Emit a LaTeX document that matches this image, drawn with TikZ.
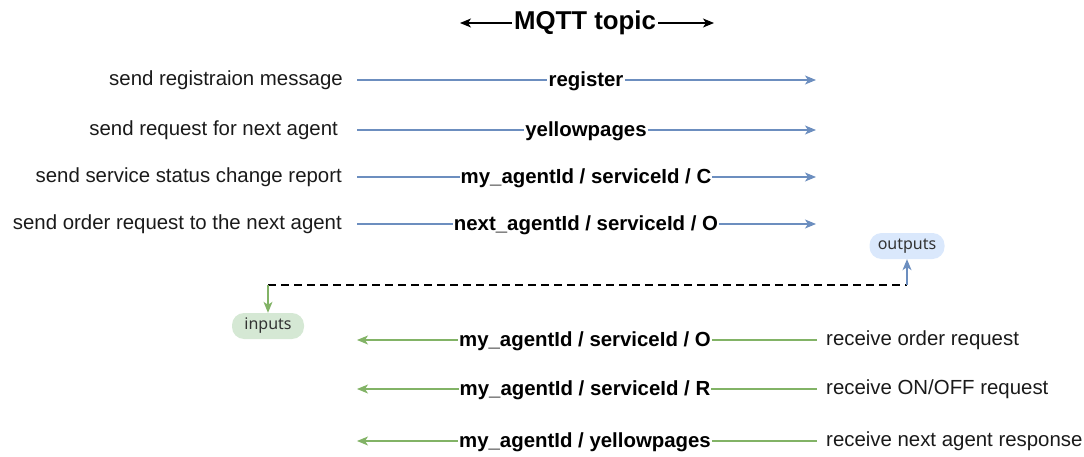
\documentclass[tikz,border=0pt]{standalone}
\usepackage{fontspec}
\setmainfont{Liberation Sans}
\newfontfamily\tagfont{Noto Sans}
\usetikzlibrary{arrows.meta}
\definecolor{outblue}{HTML}{6C8EBF}
\definecolor{outfill}{HTML}{DAE8FC}
\definecolor{ingreen}{HTML}{82B366}
\definecolor{infill}{HTML}{D5E8D4}
\definecolor{tagtext}{HTML}{333333}
\definecolor{labeltext}{HTML}{1A1A1A}
\begin{document}
\begin{tikzpicture}[x=1pt,y=-1pt,
  tip/.style={-{Stealth[length=11pt,width=9pt,inset=3pt]}},
  publine/.style={tip,draw=outblue,line width=1.2pt},
  subline/.style={tip,draw=ingreen,line width=1.2pt},
  topic/.style={fill=white,inner sep=1pt,font=\fontsize{20.4}{23}\selectfont\bfseries},
  desc/.style={inner sep=0pt,text=labeltext,font=\fontsize{20.4}{23}\selectfont},
  tag/.style={rounded corners=12pt,minimum height=26pt,minimum width=75pt,inner xsep=8pt,
              font=\tagfont\fontsize{16}{18}\selectfont,text=tagtext}]
  \useasboundingbox (0,0) rectangle (1084,457);

  % heading with its double arrow
  \node[fill=white,inner sep=2pt,font=\fontsize{25.8}{29}\selectfont\bfseries] (title) at (585,23) {MQTT topic};
  \coordinate (tl) at (460,23);
  \coordinate (tr) at (714,23);
  \draw[tip,line width=1.2pt] (title.west) -- (tl);
  \draw[tip,line width=1.2pt] (title.east) -- (tr);

  % published topics (outputs)
  \foreach \n/\y/\t/\d/\e in {
      1/80/{register}/{send registraion message}/343,
      2/130/{yellowpages}/{send request for next agent}/338,
      3/177/{my\_agentId / serviceId / C}/{send service status change report}/342,
      4/224/{next\_agentId / serviceId / O}/{send order request to the next agent}/342}{
    \node[desc,anchor=east] (pd\n) at (\e,\y) {\d};
    \coordinate (ps\n) at (357,\y);
    \coordinate (pe\n) at (816,\y);
    \node[topic] (pt\n) at (586,\y+1) {\t};
    \draw[draw=outblue,line width=1.2pt] (ps\n) -- (ps\n -| pt\n.west);
    \draw[publine] (pt\n.east |- pe\n) -- (pe\n);
  }

  % subscribed topics (inputs)
  \foreach \n/\y/\t/\d in {
      1/340/{my\_agentId / serviceId / O}/{receive order request},
      2/389/{my\_agentId / serviceId / R}/{receive ON/OFF request},
      3/441/{my\_agentId / yellowpages}/{receive next agent response}}{
    \node[desc,anchor=west] (sd\n) at (826,\y) {\d};
    \coordinate (ss\n) at (817,\y);
    \coordinate (se\n) at (357,\y);
    \node[topic] (st\n) at (585,\y+1) {\t};
    \draw[draw=ingreen,line width=1.2pt] (ss\n) -- (ss\n -| st\n.east);
    \draw[subline] (st\n.west |- se\n) -- (se\n);
  }

  % inputs / outputs tags joined by a dashed link
  \node[tag,fill=outfill] (outputs) at (907,246) {outputs};
  \node[tag,fill=infill,minimum width=72pt] (inputs) at (268,326) {inputs};
  \coordinate (linkR) at (907,285);
  \coordinate (linkL) at (268,285);
  \draw[dash pattern=on 8pt off 5pt,line width=2.5pt] (linkL) -- (linkR);
  \draw[tip,draw=outblue,line width=1.2pt] (linkR) -- (outputs.south);
  \draw[tip,draw=ingreen,line width=1.2pt] (linkL) -- (inputs.north);
\end{tikzpicture}
\end{document}
